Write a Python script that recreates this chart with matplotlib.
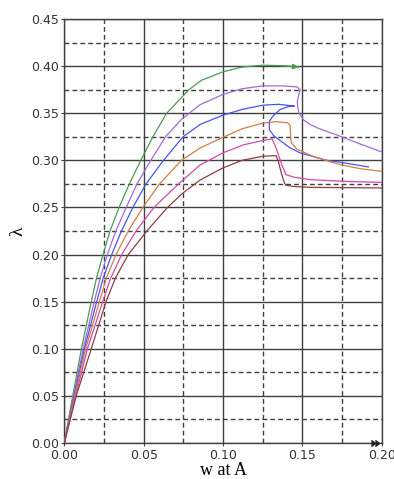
import numpy as np
import matplotlib
matplotlib.use('Agg')
import matplotlib.pyplot as plt
from matplotlib.ticker import MultipleLocator

# curves: w at A, lambda
green_w = [0, 0.0053, 0.0108, 0.0170, 0.0203, 0.0244, 0.0288, 0.0345, 0.0410, 0.0482, 0.0558,
           0.0645, 0.0785, 0.0865, 0.1, 0.112, 0.125, 0.137, 0.1475]
green_l = [0, 0.05, 0.10, 0.15, 0.175, 0.20, 0.225, 0.25, 0.275, 0.30, 0.325,
           0.35, 0.375, 0.385, 0.394, 0.399, 0.401, 0.4005, 0.399]

purple_w = [0, 0.0058, 0.0119, 0.0189, 0.0226, 0.0271, 0.0325, 0.0390, 0.0458, 0.0545, 0.0638,
            0.0735, 0.0855, 0.1, 0.112, 0.125, 0.138, 0.1465, 0.1486, 0.1475, 0.1468, 0.1472,
            0.148, 0.1507, 0.155, 0.16, 0.174, 0.187, 0.2]
purple_l = [0, 0.05, 0.10, 0.15, 0.175, 0.20, 0.225, 0.25, 0.275, 0.30, 0.325,
            0.343, 0.359, 0.370, 0.376, 0.379, 0.379, 0.378, 0.375, 0.368, 0.362, 0.355,
            0.350, 0.343, 0.338, 0.334, 0.3255, 0.317, 0.309]

blue_w = [0, 0.0062, 0.0127, 0.0204, 0.0245, 0.0299, 0.0360, 0.0432, 0.0515, 0.0625, 0.0748,
          0.0855, 0.1, 0.112, 0.125, 0.135, 0.145, 0.141, 0.136, 0.1315, 0.1292, 0.1292, 0.132,
          0.136, 0.142, 0.1486, 0.1654, 0.1738, 0.1916]
blue_l = [0, 0.05, 0.10, 0.15, 0.175, 0.20, 0.225, 0.25, 0.275, 0.30, 0.325,
          0.338, 0.348, 0.354, 0.3585, 0.3595, 0.3575, 0.357, 0.354, 0.347, 0.3414, 0.3326, 0.326,
          0.321, 0.3135, 0.3079, 0.300, 0.298, 0.293]

orange_w = [0, 0.0066, 0.0135, 0.0221, 0.0265, 0.0326, 0.0403, 0.0495, 0.0600, 0.0738, 0.0855,
            0.1, 0.112, 0.125, 0.133, 0.1406, 0.1423, 0.1427, 0.1433, 0.1465, 0.157, 0.1738,
            0.187, 0.2]
orange_l = [0, 0.05, 0.10, 0.15, 0.175, 0.20, 0.225, 0.25, 0.275, 0.30, 0.313,
            0.3245, 0.3335, 0.3395, 0.341, 0.340, 0.337, 0.322, 0.318, 0.312, 0.304, 0.2954,
            0.291, 0.2883]

pink_w = [0, 0.0072, 0.0146, 0.0242, 0.0292, 0.0362, 0.0452, 0.0565, 0.0720, 0.0855,
          0.1, 0.113, 0.125, 0.131, 0.1339, 0.137, 0.1397, 0.145, 0.1549, 0.176, 0.2]
pink_l = [0, 0.05, 0.10, 0.15, 0.175, 0.20, 0.225, 0.25, 0.275, 0.295,
          0.308, 0.3165, 0.321, 0.3228, 0.311, 0.2954, 0.2848, 0.282, 0.2795, 0.2777, 0.2766]

brown_w = [0, 0.0075, 0.0170, 0.0263, 0.0322, 0.0403, 0.0520, 0.0650, 0.0745, 0.0855, 0.1,
           0.112, 0.125, 0.1335, 0.135, 0.137, 0.1385, 0.1395, 0.145, 0.155, 0.2]
brown_l = [0, 0.05, 0.10, 0.15, 0.175, 0.20, 0.225, 0.25, 0.265, 0.279, 0.292,
           0.300, 0.3043, 0.305, 0.298, 0.285, 0.277, 0.2735, 0.2722, 0.2713, 0.2707]

curves = [
    (green_w, green_l, '#4c9a52'),
    (purple_w, purple_l, '#a46ad6'),
    (blue_w, blue_l, '#4755ee'),
    (orange_w, orange_l, '#cf7f45'),
    (pink_w, pink_l, '#d24aa6'),
    (brown_w, brown_l, '#8e3f3f'),
]

fig = plt.figure(figsize=(3.94, 4.79), dpi=100)
ax = fig.add_axes([0.1632, 0.0752, 0.8056, 0.8851])

for w, l, c in curves:
    ax.plot(w, l, color=c, lw=0.9, zorder=3)

# arrow head at the end of the green curve
ax.annotate('', xy=(green_w[-1], green_l[-1]), xytext=(green_w[-2], green_l[-2]),
            arrowprops=dict(arrowstyle='-|>', color='#4c9a52', lw=0.9, mutation_scale=8,
                            shrinkA=0, shrinkB=0), zorder=3)

ax.set_xlim(0, 0.20)
ax.set_ylim(0, 0.45)
ax.xaxis.set_major_locator(MultipleLocator(0.05))
ax.xaxis.set_minor_locator(MultipleLocator(0.025))
ax.yaxis.set_major_locator(MultipleLocator(0.05))
ax.yaxis.set_minor_locator(MultipleLocator(0.025))
ax.xaxis.set_major_formatter(plt.FormatStrFormatter('%.2f'))
ax.yaxis.set_major_formatter(plt.FormatStrFormatter('%.2f'))

ax.grid(which='major', color='#404040', lw=1.0, ls='-')
ax.grid(which='minor', color='#404040', lw=1.0, ls=(0, (3.5, 2.2)))
ax.set_axisbelow(True)
for s in ax.spines.values():
    s.set_color('#404040')
    s.set_linewidth(1.0)

ax.tick_params(which='major', length=2, width=0.8, color='#404040', labelsize=9,
               labelcolor='#333333', pad=2)
ax.tick_params(which='minor', length=0)

# small double arrow at the end of the x axis
xmax = ax.get_xlim()[1]
ax.plot([xmax - 0.0045, xmax - 0.0015], [0, 0], ls='none', marker=5, ms=4,
        color='#222222', clip_on=False, zorder=4)

ax.set_xlabel('w at A', family='Liberation Serif', fontsize=13)
ax.xaxis.set_label_coords(0.5, -0.044)
ax.xaxis.label.set_va('top')
ax.set_ylabel('λ', family='Liberation Serif', fontsize=14, labelpad=3)

fig.savefig('out.png', dpi=100)
